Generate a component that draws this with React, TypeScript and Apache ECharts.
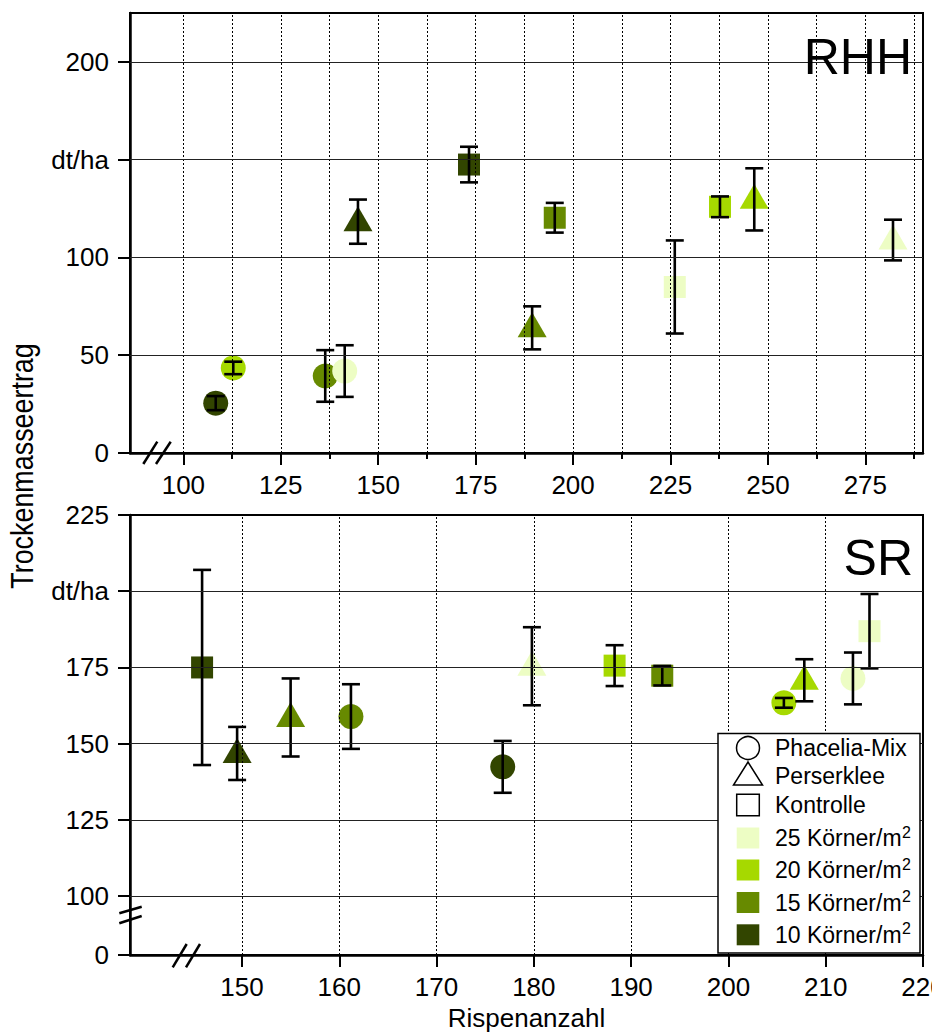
import React, { useEffect, useRef } from "react";
import * as echarts from "echarts";

const FONT = "'Liberation Sans', Arial, Helvetica, sans-serif";

// Seed densities (Körner/m²) and their colours
const densities = [10, 15, 20, 25];
const densityColors = ["#324500", "#678A00", "#A6D900", "#EDFDC4"];
const legendDensityOrder = [25, 20, 15, 10];
const speciesNames = ["Phacelia-Mix", "Perserklee", "Kontrolle"];

// RHH panel: [Rispenanzahl, Trockenmasseertrag dt/ha, Fehler], order = densities 10, 15, 20, 25
const rhhPhacelia = [[108.3, 25.5, 3.6], [136.4, 39.4, 13.2], [112.8, 43.5, 3.2], [141.4, 41.9, 13.2]];
const rhhPerserklee = [[144.8, 118.3, 11.3], [189.5, 64.0, 11.0], [246.5, 129.7, 15.9], [282.1, 108.9, 10.4]];
const rhhKontrolle = [[173.3, 147.5, 9.1], [195.3, 120.3, 7.6], [237.7, 125.9, 5.3], [226.1, 84.9, 23.8]];

// SR panel
const srPhacelia = [[176.8, 142.4, 8.5], [161.2, 158.9, 10.6], [205.7, 163.4, 1.6], [212.8, 171.4, 8.5]];
const srPerserklee = [[149.5, 146.8, 8.7], [155.0, 158.6, 12.8], [207.8, 170.8, 6.9], [179.8, 175.4, 12.8]];
const srKontrolle = [[145.9, 175.0, 32.0], [193.2, 172.3, 3.2], [188.3, 175.6, 6.7], [214.5, 186.9, 12.2]];

// Axes / ticks
const rhhXMajor = [100, 125, 150, 175, 200, 225, 250, 275];
const rhhXMinor = [112.5, 137.5, 162.5, 187.5, 212.5, 237.5, 262.5, 287.5];
const rhhXGrid = [100, 112.5, 125, 137.5, 150, 162.5, 175, 187.5, 200, 212.5, 225, 237.5, 250, 262.5, 275, 287.5];
const rhhYTicks = [0, 50, 100, 150, 200];
const rhhYGrid = [50, 100, 150, 200];
const srXTicks = [150, 160, 170, 180, 190, 200, 210, 220];
const srXGrid = [150, 160, 170, 180, 190, 200, 210];
const srYMin = 80.7;
const srYTicks = [srYMin, 100, 125, 150, 175, 200, 225];
const srYGrid = [100, 125, 150, 175, 200];

const colorOf = (i: number) => densityColors[i];

function scatterData(rows: number[][]) {
  return rows.map((r, i) => ({ value: [r[0], r[1]], itemStyle: { color: colorOf(i), opacity: 1 } }));
}

function errorBarItem(params: any, api: any) {
  const x = api.value(0);
  const y = api.value(1);
  const e = api.value(2);
  const top = api.coord([x, y + e]);
  const bot = api.coord([x, y - e]);
  const hw = 9;
  const style = { stroke: "#000", lineWidth: 2.6, fill: "none" };
  return {
    type: "group",
    children: [
      { type: "line", shape: { x1: top[0], y1: top[1], x2: bot[0], y2: bot[1] }, style },
      { type: "line", shape: { x1: top[0] - hw, y1: top[1], x2: top[0] + hw, y2: top[1] }, style },
      { type: "line", shape: { x1: bot[0] - hw, y1: bot[1], x2: bot[0] + hw, y2: bot[1] }, style },
    ],
  };
}

export default function App() {
  const ref = useRef<HTMLDivElement>(null);

  useEffect(() => {
    document.body.style.margin = "0";
    if (!ref.current) return;
    const chart = echarts.init(ref.current, undefined, { renderer: "svg" });

    const axisLine = { show: true, lineStyle: { color: "#000", width: 2.5 } };
    const labelStyle = { color: "#000", fontSize: 26, fontFamily: FONT };
    const dotted = { color: "#000", width: 1, type: [2, 2] as any };
    const solid = { color: "#222", width: 1, type: "solid" as any };

    const gridSeries = (xi: number, yi: number, xs: number[], ys: number[]) => ({
      type: "scatter",
      xAxisIndex: xi,
      yAxisIndex: yi,
      data: [],
      z: 1,
      silent: true,
      markLine: {
        silent: true,
        symbol: ["none", "none"],
        label: { show: false },
        animation: false,
        data: [
          ...xs.map((v) => ({ xAxis: v, lineStyle: dotted })),
          ...ys.map((v) => ({ yAxis: v, lineStyle: solid })),
        ],
      },
    });

    const markerSeries = (xi: number, yi: number, rows: number[][], symbol: string, size: any, offset: number[]) => ({
      type: "scatter",
      xAxisIndex: xi,
      yAxisIndex: yi,
      symbol,
      symbolSize: size,
      symbolOffset: offset,
      itemStyle: { opacity: 1 },
      z: 3,
      data: scatterData(rows),
    });

    const errSeries = (xi: number, yi: number, rows: number[][]) => ({
      type: "custom",
      xAxisIndex: xi,
      yAxisIndex: yi,
      z: 4,
      dimensions: ["x", "y", "err"],
      encode: { x: 0, y: 1 },
      renderItem: errorBarItem,
      data: rows,
    });

    const series: any[] = [
      gridSeries(0, 0, rhhXGrid, rhhYGrid),
      gridSeries(2, 1, srXGrid, srYGrid),
    ];
    const panels = [
      { xi: 0, yi: 0, sets: [rhhPhacelia, rhhPerserklee, rhhKontrolle] },
      { xi: 2, yi: 1, sets: [srPhacelia, srPerserklee, srKontrolle] },
    ];
    panels.forEach((p) => {
      series.push(markerSeries(p.xi, p.yi, p.sets[0], "circle", 25, [0, 0]));
      series.push(markerSeries(p.xi, p.yi, p.sets[1], "triangle", [29, 25], [0, -3]));
      series.push(markerSeries(p.xi, p.yi, p.sets[2], "rect", 22, [0, 0]));
      p.sets.forEach((s) => series.push(errSeries(p.xi, p.yi, s)));
    });

    // Legend (drawn as graphic)
    const legendX = 718, legendY = 733.5, legendW = 202, legendH = 219.5;
    const keyCx = 748;
    const textX = 775;
    const speciesRowY = [748, 776, 805];
    const densityRowY = [838, 870, 902.5, 934.8];
    const legendText = (t: string, y: number) => ({
      type: "text",
      x: textX,
      y,
      z: 101,
      style: { text: t, fill: "#000", fontSize: 23, fontFamily: FONT, align: "left", verticalAlign: "middle" },
    });
    const legendChildren: any[] = [
      { type: "rect", shape: { x: legendX, y: legendY, width: legendW, height: legendH }, style: { fill: "#fff", stroke: "#000", lineWidth: 1.5 }, z: 100 },
      { type: "circle", shape: { cx: keyCx, cy: speciesRowY[0], r: 11.5 }, style: { fill: "#fff", stroke: "#000", lineWidth: 1.5 }, z: 101 },
      { type: "polygon", shape: { points: [[keyCx, speciesRowY[1] - 14], [keyCx - 14.5, speciesRowY[1] + 9], [keyCx + 14.5, speciesRowY[1] + 9]] }, style: { fill: "#fff", stroke: "#000", lineWidth: 1.5 }, z: 101 },
      { type: "rect", shape: { x: keyCx - 11.3, y: speciesRowY[2] - 10.8, width: 22.6, height: 21.6 }, style: { fill: "#fff", stroke: "#000", lineWidth: 1.5 }, z: 101 },
      ...speciesNames.map((n, i) => legendText(n, speciesRowY[i])),
    ];
    legendDensityOrder.forEach((d, i) => {
      const y = densityRowY[i];
      const ci = densities.indexOf(d);
      legendChildren.push({ type: "rect", shape: { x: keyCx - 11.3, y: y - 10.5, width: 22.6, height: 21 }, style: { fill: colorOf(ci) }, z: 101 });
      legendChildren.push(legendText(`${d} Körner/m`, y));
      legendChildren.push({
        type: "text", x: 902, y: y - 6, z: 101,
        style: { text: "2", fill: "#000", fontSize: 16, fontFamily: FONT, align: "left", verticalAlign: "middle" },
      });
    });

    const breakLine = (x1: number, y1: number, x2: number, y2: number) => ({
      type: "line",
      z: 50,
      shape: { x1, y1, x2, y2 },
      style: { stroke: "#000", lineWidth: 2.5 },
    });

    const gridBase = {
      left: 130, right: 9, height: 440, show: true, borderColor: "#000", borderWidth: 2,
      backgroundColor: "transparent", containLabel: false, outerBoundsMode: "none",
    };

    chart.setOption({
      animation: false,
      backgroundColor: "#fff",
      textStyle: { fontFamily: FONT },
      grid: [
        { ...gridBase, top: 13 },
        { ...gridBase, top: 515 },
      ],
      xAxis: [
        {
          type: "value", gridIndex: 0, min: 86.3, max: 289.8, position: "bottom",
          axisLine,
          axisTick: { show: true, customValues: rhhXMajor, length: 12, lineStyle: { color: "#000", width: 2 } },
          axisLabel: { ...labelStyle, customValues: rhhXMajor, margin: 19 },
          splitLine: { show: false },
        },
        {
          type: "value", gridIndex: 0, min: 86.3, max: 289.8, position: "bottom", offset: 0,
          axisLine: { show: false },
          axisTick: { show: true, customValues: rhhXMinor, length: 6, lineStyle: { color: "#000", width: 2 } },
          axisLabel: { show: false },
          splitLine: { show: false },
        },
        {
          type: "value", gridIndex: 1, min: 138.49, max: 220, position: "bottom",
          axisLine,
          axisTick: { show: true, customValues: srXTicks, length: 12, lineStyle: { color: "#000", width: 2 } },
          axisLabel: { ...labelStyle, customValues: srXTicks, margin: 19 },
          splitLine: { show: false },
        },
      ],
      yAxis: [
        {
          type: "value", gridIndex: 0, min: 0, max: 225,
          axisLine,
          axisTick: { show: true, customValues: rhhYTicks, length: 12, lineStyle: { color: "#000", width: 2 } },
          axisLabel: {
            ...labelStyle, customValues: rhhYTicks, margin: 21,
            formatter: (v: number) => (v === 150 ? "dt/ha" : String(v)),
          },
          splitLine: { show: false },
        },
        {
          type: "value", gridIndex: 1, min: srYMin, max: 225,
          axisLine,
          axisTick: { show: true, customValues: srYTicks, length: 12, lineStyle: { color: "#000", width: 2 } },
          axisLabel: {
            ...labelStyle, customValues: srYTicks, margin: 21,
            formatter: (v: number) => (v < 90 ? "0" : v === 200 ? "dt/ha" : String(Math.round(v))),
          },
          splitLine: { show: false },
        },
      ],
      series,
      graphic: [
        {
          type: "text", x: 912, y: 57, z: 60,
          style: { text: "RHH", fill: "#000", fontSize: 50, fontFamily: FONT, align: "right", verticalAlign: "middle" },
        },
        {
          type: "text", x: 913, y: 558, z: 60,
          style: { text: "SR", fill: "#000", fontSize: 50, fontFamily: FONT, align: "right", verticalAlign: "middle" },
        },
        {
          type: "text", x: 526.5, y: 1018, z: 60,
          style: { text: "Rispenanzahl", fill: "#000", fontSize: 26, fontFamily: FONT, align: "center", verticalAlign: "middle" },
        },
        {
          type: "text", x: 22, y: 466, rotation: Math.PI / 2, scaleX: 0.84, z: 60,
          style: { text: "Trockenmasseertrag", fill: "#000", fontSize: 32, fontFamily: FONT, align: "center", verticalAlign: "middle" },
        },
        breakLine(143.3, 464, 157.3, 441.7),
        breakLine(156, 464, 170.7, 441.7),
        breakLine(172.7, 967.3, 186.7, 944),
        breakLine(186, 967.3, 200, 944),
        breakLine(119.3, 913.3, 141.7, 906.7),
        breakLine(119.3, 923.3, 141.7, 916),
        { type: "group", children: legendChildren },
      ],
    });

    return () => chart.dispose();
  }, []);

  return <div ref={ref} style={{ width: 932, height: 1034 }} />;
}
